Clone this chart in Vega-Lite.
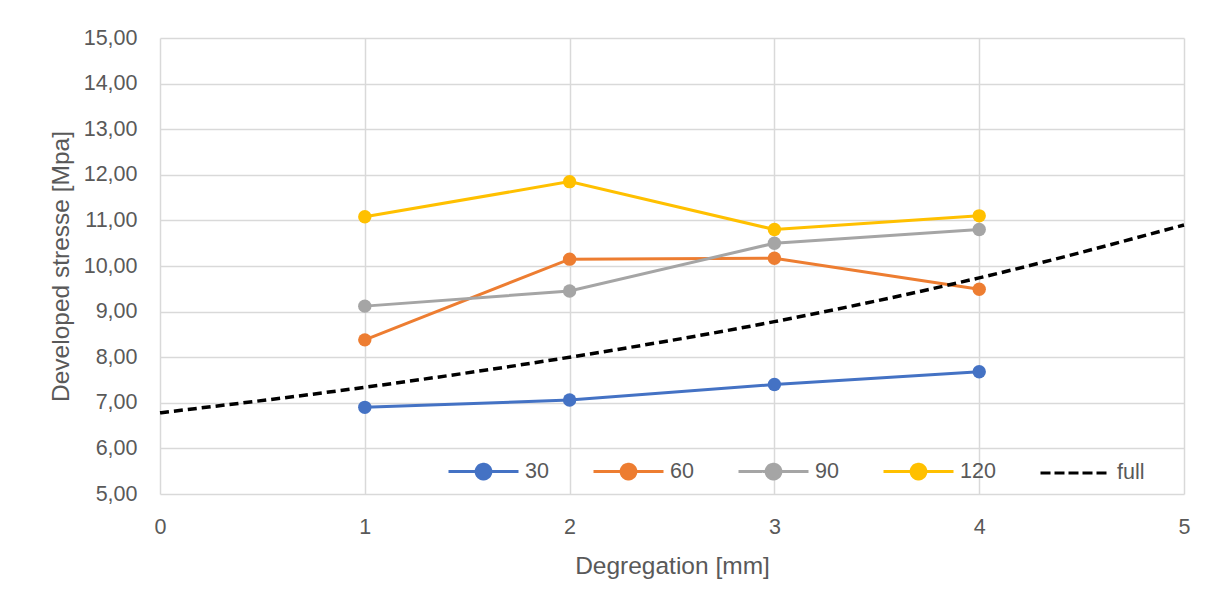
{
  "$schema": "https://vega.github.io/schema/vega-lite/v6.json",
  "width": 1024,
  "height": 456,
  "autosize": "none",
  "padding": {"left": 160, "top": 38, "right": 31, "bottom": 112},
  "background": "white",
  "config": {
    "locale": {"number": {"decimal": ",", "thousands": ".", "grouping": [3], "currency": ["", " €"]}},
    "font": "Liberation Sans",
    "view": {"stroke": null},
    "axis": {
      "labelFont": "Liberation Sans", "labelFontSize": 21.5, "labelColor": "#595959",
      "titleFont": "Liberation Sans", "titleFontSize": 24.5, "titleColor": "#595959", "titleFontWeight": "normal",
      "gridColor": "#d9d9d9", "gridWidth": 1.5, "domain": false, "ticks": false, "labelFlush": false
    },
    "legend": {"labelFont": "Liberation Sans", "labelFontSize": 21.5, "labelColor": "#595959"}
  },
  "data": {
    "values": [
      {"x": 1, "y": 6.90, "s": "30"}, {"x": 2, "y": 7.06, "s": "30"}, {"x": 3, "y": 7.40, "s": "30"}, {"x": 4, "y": 7.68, "s": "30"},
      {"x": 1, "y": 8.38, "s": "60"}, {"x": 2, "y": 10.15, "s": "60"}, {"x": 3, "y": 10.17, "s": "60"}, {"x": 4, "y": 9.49, "s": "60"},
      {"x": 1, "y": 9.12, "s": "90"}, {"x": 2, "y": 9.45, "s": "90"}, {"x": 3, "y": 10.50, "s": "90"}, {"x": 4, "y": 10.80, "s": "90"},
      {"x": 1, "y": 11.08, "s": "120"}, {"x": 2, "y": 11.85, "s": "120"}, {"x": 3, "y": 10.80, "s": "120"}, {"x": 4, "y": 11.10, "s": "120"},
      {"x": 0, "y": 6.78, "s": "full"}, {"x": 1, "y": 7.34, "s": "full"}, {"x": 2, "y": 8.00, "s": "full"}, {"x": 3, "y": 8.78, "s": "full"}, {"x": 4, "y": 9.74, "s": "full"}, {"x": 5, "y": 10.90, "s": "full"}
    ]
  },
  "encoding": {
    "x": {"field": "x", "type": "quantitative", "scale": {"domain": [0, 5], "nice": false},
      "axis": {"values": [0, 1, 2, 3, 4, 5], "format": "d", "title": "Degregation [mm]", "labelPadding": 22, "titlePadding": 17, "grid": true}},
    "y": {"field": "y", "type": "quantitative", "scale": {"domain": [5, 15], "nice": false, "zero": false},
      "axis": {"values": [5, 6, 7, 8, 9, 10, 11, 12, 13, 14, 15], "format": ".2f", "title": "Developed stresse [Mpa]", "labelPadding": 23, "titlePadding": 10}},
    "color": {"field": "s", "type": "nominal",
      "scale": {"domain": ["30", "60", "90", "120", "full"], "range": ["#4472c4", "#ed7d31", "#a5a5a5", "#ffc000", "#000000"]},
      "legend": {
        "title": null, "orient": "none", "direction": "horizontal", "legendX": 287, "legendY": 397,
        "symbolSize": 4900, "symbolStrokeWidth": 3, "labelOffset": 5, "columnPadding": 38,
        "encode": {
          "symbols": {"update": {
            "shape": {"signal": "datum.value === 'full' ? 'M-1,0H1' : 'M-1,0H1M0.21,0A0.21,0.21,0,1,1,-0.21,0A0.21,0.21,0,1,1,0.21,0'"},
            "fill": {"signal": "datum.value === 'full' ? 'transparent' : scale('color', datum.value)"},
            "stroke": {"signal": "scale('color', datum.value)"},
            "strokeDash": {"signal": "datum.value === 'full' ? [10, 4] : [1, 0]"},
            "opacity": {"value": 1}
          }}
        }
      }
    }
  },
  "layer": [
    {"transform": [{"filter": "datum.s !== 'full'"}], "mark": {"type": "line", "strokeWidth": 3}},
    {"transform": [{"filter": "datum.s !== 'full'"}], "mark": {"type": "point", "filled": true, "size": 180, "opacity": 1}},
    {"transform": [{"filter": "datum.s === 'full'"}], "mark": {"type": "line", "strokeWidth": 3.5, "strokeDash": [9, 5], "interpolate": "monotone"}}
  ]
}
